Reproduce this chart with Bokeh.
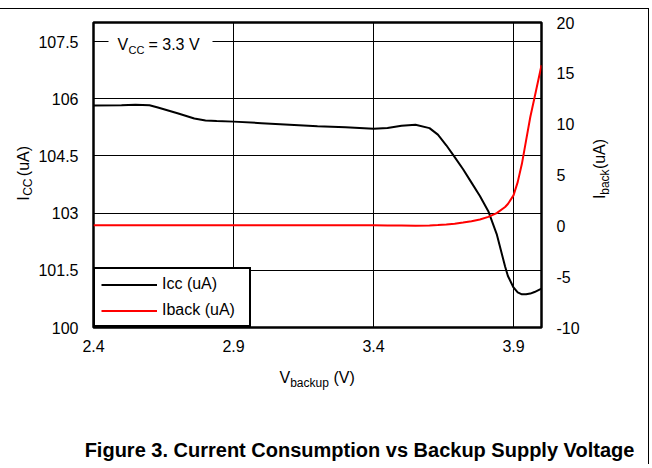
from math import pi
from bokeh.plotting import figure
from bokeh.layouts import row, column
from bokeh.models import (Range1d, LinearAxis, FixedTicker, Label, BoxAnnotation,
                          Legend, LegendItem)
from bokeh.embed import file_html
from bokeh.resources import INLINE

# ---- data ----
v_backup = [2.4, 2.5, 2.55, 2.6, 2.63, 2.7, 2.76, 2.8, 2.84, 2.9, 3.0, 3.1, 3.2,
            3.3, 3.4, 3.45, 3.5, 3.55, 3.6, 3.63, 3.66, 3.69, 3.72, 3.75, 3.78,
            3.81, 3.84, 3.87, 3.88, 3.9, 3.915, 3.93, 3.945, 3.96, 3.975, 4.0]
icc = [105.82, 105.83, 105.84, 105.83, 105.77, 105.62, 105.48, 105.43, 105.415,
       105.40, 105.36, 105.32, 105.28, 105.25, 105.21, 105.23, 105.29, 105.32,
       105.23, 105.06, 104.78, 104.47, 104.15, 103.80, 103.45, 103.05, 102.45,
       101.60, 101.35, 101.05, 100.92, 100.87, 100.87, 100.89, 100.93, 101.02]
iback = [0.05, 0.05, 0.05, 0.05, 0.05, 0.05, 0.05, 0.05, 0.05, 0.05, 0.05, 0.05,
         0.05, 0.05, 0.05, 0.04, 0.03, 0.02, 0.04, 0.07, 0.12, 0.2, 0.32, 0.46,
         0.63, 0.88, 1.25, 1.85, 2.15, 3.0, 4.3, 6.1, 8.4, 10.7, 12.6, 15.8]
x_ticks = [2.4, 2.9, 3.4, 3.9]
icc_ticks = [100, 101.5, 103, 104.5, 106, 107.5]
icc_tick_labels = ["100", "101.5", "103", "104.5", "106", "107.5"]
iback_ticks = [-10, -5, 0, 5, 10, 15, 20]
iback_tick_labels = ["-10", "-5", "0", "5", "10", "15", "20"]

FONT = "Liberation Sans"

# ---------------- main chart ----------------
p = figure(frame_width=448, frame_height=305,
           min_border_left=59, min_border_right=45,
           min_border_top=13, min_border_bottom=42,
           x_range=Range1d(2.4, 4.0), y_range=Range1d(100, 108),
           output_backend="svg", toolbar_location=None)
p.extra_y_ranges = {"iback": Range1d(-10, 20)}
p.outline_line_color = "black"
p.outline_line_width = 2.5
p.background_fill_color = "white"
p.border_fill_color = "white"


def style_axis(ax, standoff):
    ax.axis_line_color = None
    ax.major_tick_line_color = None
    ax.minor_tick_line_color = None
    ax.major_tick_out = 0
    ax.major_tick_in = 0
    ax.major_label_standoff = standoff
    ax.major_label_text_font = FONT
    ax.major_label_text_font_size = "16px"
    ax.major_label_text_color = "black"


xa = p.xaxis[0]
xa.ticker = FixedTicker(ticks=x_ticks)
style_axis(xa, 12)

ya = p.yaxis[0]
ya.ticker = FixedTicker(ticks=icc_ticks)
ya.major_label_overrides = {t: s for t, s in zip(icc_ticks, icc_tick_labels)}
style_axis(ya, 15)

ra = LinearAxis(y_range_name="iback", ticker=FixedTicker(ticks=iback_ticks))
ra.major_label_overrides = {t: s for t, s in zip(iback_ticks, iback_tick_labels)}
style_axis(ra, 15)
p.add_layout(ra, "right")

p.xgrid.ticker = FixedTicker(ticks=x_ticks)
p.ygrid.ticker = FixedTicker(ticks=icc_ticks)
for g in (p.xgrid[0], p.ygrid[0]):
    g.grid_line_color = "black"
    g.grid_line_width = 1
    g.grid_line_alpha = 1

r_icc = p.line(v_backup, icc, line_color="black", line_width=2)
r_ib = p.line(v_backup, iback, line_color="#ff0000", line_width=2,
              y_range_name="iback")

legend = Legend(items=[LegendItem(label="Icc (uA)", renderers=[r_icc]),
                       LegendItem(label="Iback (uA)", renderers=[r_ib])],
                location="bottom_left", margin=0, padding=6, spacing=8,
                glyph_width=56, glyph_height=15, label_height=15,
                label_width=81, label_standoff=5, label_text_font=FONT,
                label_text_font_size="16px", label_text_color="black",
                border_line_color="black", border_line_width=2,
                border_line_alpha=1,
                background_fill_color="white", background_fill_alpha=1)
p.add_layout(legend)

# V_CC note with white background (inside the plot area)
p.add_layout(BoxAnnotation(left=2.4536, right=2.825, bottom=106.95, top=107.79,
                           fill_color="white", fill_alpha=1, line_color=None))


def lab(fig, x, y, text, size, angle=0, align="left", baseline="alphabetic",
        style="normal"):
    fig.add_layout(Label(x=x, y=y, text=text, text_font=FONT,
                         text_font_size=size, text_color="black",
                         text_align=align, text_baseline=baseline,
                         angle=angle, text_font_style=style))


lab(p, 2.4857, 107.415, "V", "16px")
lab(p, 2.525, 107.266, "CC", "11px")
lab(p, 2.5964, 107.415, "= 3.3 V", "16px")


# ---------------- text panels around the chart (page-pixel coordinates) ----
def text_fig(w, h, x0, x1, y_bottom, y_top):
    f = figure(width=w, height=h, x_range=Range1d(x0, x1),
               y_range=Range1d(y_bottom, y_top), x_axis_type=None,
               y_axis_type=None, output_backend="svg", toolbar_location=None,
               min_border=0)
    f.outline_line_color = None
    f.background_fill_color = "white"
    f.border_fill_color = "white"
    return f


def rot(fig, x, y, text, size):
    lab(fig, x, y, text, size, angle=pi / 2, align="center", baseline="middle")


left_fig = text_fig(34, 360, 0, 34, 369, 9)
rot(left_fig, 22.5, 216.8, "I", "16px")
rot(left_fig, 27.0, 203.4, "CC", "12px")
rot(left_fig, 22.5, 172.5, "(uA)", "16px")

right_fig = text_fig(62, 360, 586, 648, 369, 9)
rot(right_fig, 599.4, 214.8, "I", "16px")
rot(right_fig, 604.8, 197.4, "back", "12px")
rot(right_fig, 599.4, 164.2, "(uA)", "16px")

bottom_fig = text_fig(648, 95, 0, 648, 464, 369)
lab(bottom_fig, 279, 377, "V", "16px")
lab(bottom_fig, 289.7, 382.3, "backup", "12px")
lab(bottom_fig, 332.9, 377, "(V)", "16px")
lab(bottom_fig, 359, 449, "Figure 3. Current Consumption vs Backup Supply Voltage",
    "20px", align="center", style="bold")

layout = column(row(left_fig, p, right_fig), bottom_fig)
layout.styles = {"margin-top": "8px", "border-top": "1px solid black",
                 "border-right": "1px solid black"}

open("out.html", "w").write(file_html(layout, INLINE))
